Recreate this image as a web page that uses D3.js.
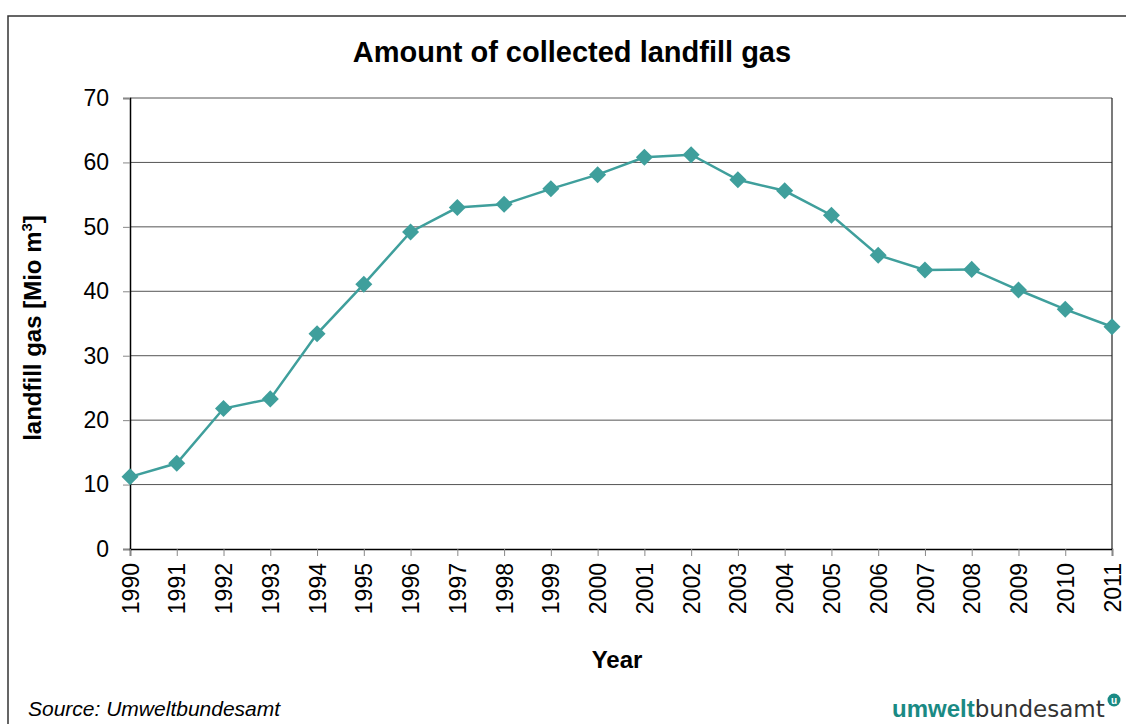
<!DOCTYPE html>
<html>
<head>
<meta charset="utf-8">
<script src="https://cdn.jsdelivr.net/npm/d3@7"></script>
<style>
  body { margin: 0; background: #fff; }
  text { font-family: "Liberation Sans", Arial, sans-serif; }
</style>
</head>
<body>
<div id="chart"></div>
<script>
// Data
var years = ["1990","1991","1992","1993","1994","1995","1996","1997","1998","1999","2000",
             "2001","2002","2003","2004","2005","2006","2007","2008","2009","2010","2011"];
var gas = [11.2, 13.3, 21.8, 23.3, 33.4, 41.1, 49.2, 53.0, 53.5, 55.9, 58.1,
           60.8, 61.2, 57.3, 55.6, 51.8, 45.6, 43.3, 43.4, 40.2, 37.2, 34.5];
var yTicks = [0, 10, 20, 30, 40, 50, 60, 70];

var W = 1126, H = 724;
var margin = {top: 98, left: 130, right: 14, bottom: 175};
var width = 1112 - margin.left, height = 549 - margin.top;
var teal = "#3f9f9c";

var svg = d3.select("#chart").append("svg")
    .attr("width", W).attr("height", H);

// outer frame
svg.append("path")
    .attr("d", "M8,724 L8,16 L1126,16")
    .attr("fill", "none").attr("stroke", "#333").attr("stroke-width", 1.5);

svg.append("text")
    .attr("x", 572).attr("y", 62)
    .attr("text-anchor", "middle")
    .style("font-size", "29px").style("font-weight", "bold")
    .text("Amount of collected landfill gas");

var g = svg.append("g")
    .attr("transform", "translate(" + margin.left + "," + margin.top + ")");

var x = d3.scalePoint().domain(years).range([0, width]);
var y = d3.scaleLinear().domain([0, 70]).range([height, 0]);

// gridlines
g.selectAll(".grid")
    .data(yTicks.filter(function(d) { return d > 0; }))
    .enter().append("line")
    .attr("class", "grid")
    .attr("x1", 0).attr("x2", width)
    .attr("y1", function(d) { return y(d); })
    .attr("y2", function(d) { return y(d); })
    .attr("stroke", "#555").attr("stroke-width", 1);

// right border of plot
g.append("line")
    .attr("x1", width).attr("x2", width).attr("y1", 0).attr("y2", height)
    .attr("stroke", "#222").attr("stroke-width", 1.2);

// y axis
var yAxis = g.append("g")
    .call(d3.axisLeft(y).tickValues(yTicks).tickSize(7).tickPadding(14));
yAxis.select(".domain").attr("stroke", "#000").attr("stroke-width", 1.5);
yAxis.selectAll(".tick line").attr("stroke", "#888");
yAxis.selectAll("text").style("font-size", "23px").attr("fill", "#000");

// x axis
var xAxis = g.append("g")
    .attr("transform", "translate(0," + height + ")")
    .call(d3.axisBottom(x).tickSize(7));
xAxis.select(".domain").attr("stroke", "#000").attr("stroke-width", 1.5);
xAxis.selectAll(".tick line").attr("stroke", "#888");
xAxis.selectAll("text")
    .style("font-size", "23px").attr("fill", "#000")
    .attr("text-anchor", "end")
    .attr("transform", "rotate(-90)")
    .attr("x", -14).attr("y", 0).attr("dy", "0.35em");

// line + markers
var line = d3.line()
    .x(function(d, i) { return x(years[i]); })
    .y(function(d) { return y(d); });

g.append("path")
    .datum(gas)
    .attr("d", line)
    .attr("fill", "none").attr("stroke", teal).attr("stroke-width", 2.5);

g.selectAll(".pt")
    .data(gas)
    .enter().append("path")
    .attr("class", "pt")
    .attr("d", d3.symbol().type(d3.symbolDiamond2).size(185))
    .attr("transform", function(d, i) { return "translate(" + x(years[i]) + "," + y(d) + ")"; })
    .attr("fill", teal);

// axis titles
svg.append("text")
    .attr("x", 617).attr("y", 668)
    .attr("text-anchor", "middle")
    .style("font-size", "24px").style("font-weight", "bold")
    .text("Year");

var yl = svg.append("text")
    .attr("transform", "translate(41,328) rotate(-90)")
    .attr("text-anchor", "middle")
    .style("font-size", "24px").style("font-weight", "bold");
yl.append("tspan").text("landfill gas [Mio m");
yl.append("tspan").attr("dy", -9).style("font-size", "15px").text("3");
yl.append("tspan").attr("dy", 9).text("]");

// source
svg.append("text")
    .attr("x", 28).attr("y", 716)
    .style("font-size", "21px").style("font-style", "italic")
    .text("Source: Umweltbundesamt");

// logo
var logo = svg.append("text")
    .attr("x", 892).attr("y", 717)
    .style("font-size", "24px");
logo.append("tspan").style("font-weight", "bold").attr("fill", "#1a8a84").text("umwelt");
logo.append("tspan").attr("fill", "#333").style("font-family", "'DejaVu Sans', sans-serif")
    .style("font-size", "23px").text("bundesamt");
svg.append("circle").attr("cx", 1114).attr("cy", 700).attr("r", 6.5).attr("fill", "#1a8a84");
svg.append("text").attr("x", 1114).attr("y", 704).attr("text-anchor", "middle")
    .style("font-size", "10px").style("font-weight", "bold").attr("fill", "#fff").text("u");
</script>
</body>
</html>
